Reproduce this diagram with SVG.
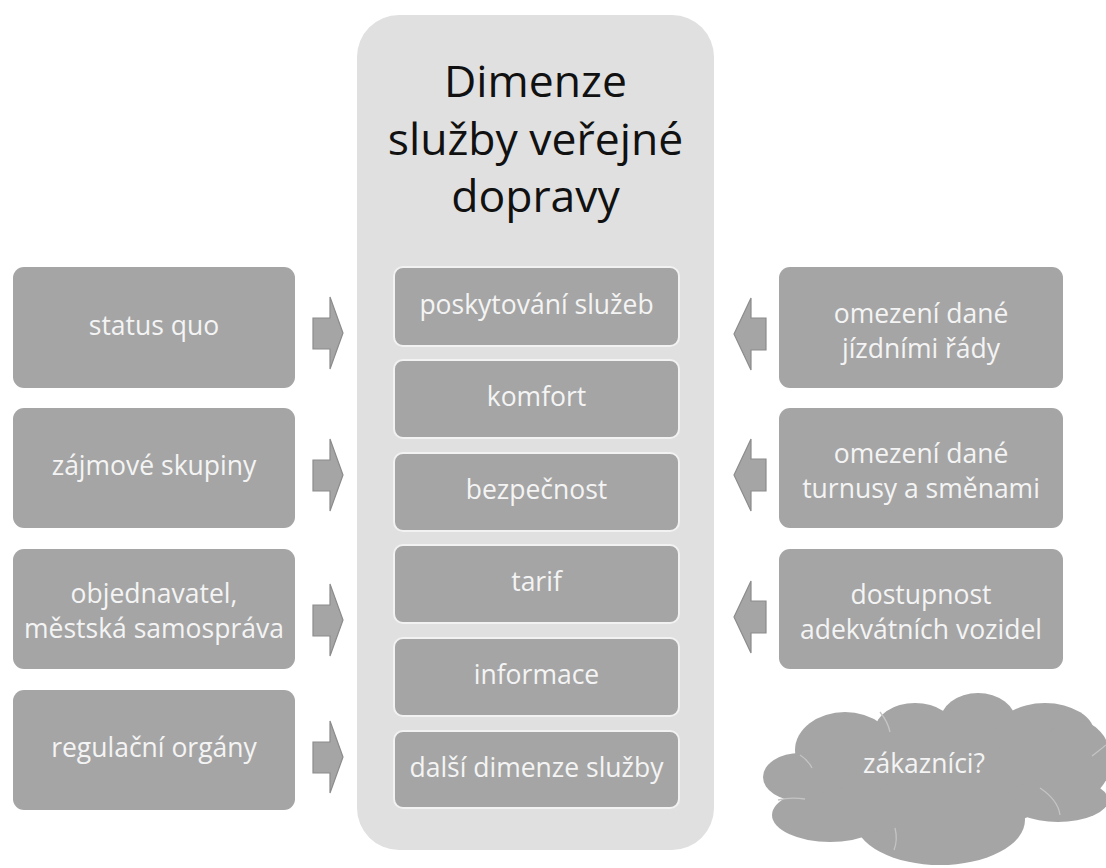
<svg xmlns="http://www.w3.org/2000/svg" width="1106" height="868" viewBox="0 0 1106 868">
<defs>
<style>
.panel{fill:#e0e0e0;}
.box{fill:#a5a5a5;}
.inner{fill:#a5a5a5;stroke:#f2f2f2;stroke-width:2;}
.t{font-family:"Open Sans","Noto Sans",sans-serif;font-size:26.5px;fill:#f4f4f4;text-anchor:middle;}
.title{font-family:"Open Sans","Noto Sans",sans-serif;font-size:44.5px;fill:#111;text-anchor:middle;}
.arr{fill:#a5a5a5;stroke:#8c8c8c;stroke-width:1.2;stroke-linejoin:miter;}
.cloud{fill:#a5a5a5;}
.cl{fill:none;stroke:#c4c4c4;stroke-width:1.3;}
</style>
</defs>
<rect width="1106" height="868" fill="#ffffff"/>

<g id="panel">
<rect class="panel" x="357" y="15" width="357" height="835" rx="42"/>
<text class="title" x="535.5" y="97">Dimenze</text>
<text class="title" x="535.5" y="155">služby veřejné</text>
<text class="title" x="535.5" y="212">dopravy</text>
</g>

<g id="dim1"><rect class="inner" x="394" y="267" width="285" height="79" rx="9"/><text class="t" x="536.5" y="314">poskytování služeb</text></g>
<g id="dim2"><rect class="inner" x="394" y="360" width="285" height="78" rx="9"/><text class="t" x="536.5" y="406">komfort</text></g>
<g id="dim3"><rect class="inner" x="394" y="453" width="285" height="78" rx="9"/><text class="t" x="536.5" y="499">bezpečnost</text></g>
<g id="dim4"><rect class="inner" x="394" y="545" width="285" height="78" rx="9"/><text class="t" x="536.5" y="591">tarif</text></g>
<g id="dim5"><rect class="inner" x="394" y="638" width="285" height="78" rx="9"/><text class="t" x="536.5" y="684">informace</text></g>
<g id="dim6"><rect class="inner" x="394" y="731" width="285" height="77" rx="9"/><text class="t" x="536.5" y="777">další dimenze služby</text></g>

<g id="left1"><rect class="box" x="13" y="267" width="282" height="121" rx="11"/><text class="t" x="154" y="335">status quo</text></g>
<g id="left2"><rect class="box" x="13" y="408" width="282" height="120" rx="11"/><text class="t" x="154" y="475">zájmové skupiny</text></g>
<g id="left3"><rect class="box" x="13" y="549" width="282" height="120" rx="11"/><text class="t" x="154" y="603">objednavatel,</text><text class="t" x="154" y="638">městská samospráva</text></g>
<g id="left4"><rect class="box" x="13" y="690" width="282" height="120" rx="11"/><text class="t" x="154" y="757">regulační orgány</text></g>

<g id="right1"><rect class="box" x="779" y="267" width="284" height="121" rx="11"/><text class="t" x="921" y="323">omezení dané</text><text class="t" x="921" y="358">jízdními řády</text></g>
<g id="right2"><rect class="box" x="779" y="408" width="284" height="120" rx="11"/><text class="t" x="921" y="463">omezení dané</text><text class="t" x="921" y="498">turnusy a směnami</text></g>
<g id="right3"><rect class="box" x="779" y="549" width="284" height="120" rx="11"/><text class="t" x="921" y="604">dostupnost</text><text class="t" x="921" y="639">adekvátních vozidel</text></g>

<g id="cloud">
<ellipse class="cloud" cx="935" cy="775" rx="135" ry="58"/>
<ellipse class="cloud" cx="845" cy="750" rx="50" ry="38"/>
<ellipse class="cloud" cx="915" cy="730" rx="40" ry="27"/>
<ellipse class="cloud" cx="978" cy="722" rx="38" ry="29"/>
<ellipse class="cloud" cx="1045" cy="735" rx="50" ry="32"/>
<ellipse class="cloud" cx="1075" cy="760" rx="36" ry="40"/>
<ellipse class="cloud" cx="1058" cy="800" rx="50" ry="22"/>
<ellipse class="cloud" cx="940" cy="820" rx="85" ry="45"/>
<ellipse class="cloud" cx="830" cy="815" rx="58" ry="27"/>
<ellipse class="cloud" cx="800" cy="777" rx="37" ry="24"/>
<path class="cl" d="M800 755 Q808 760 812 768"/>
<path class="cl" d="M778 800 Q790 797 805 799"/>
<path class="cl" d="M1092 756 Q1100 750 1106 745"/>
<path class="cl" d="M1040 788 Q1058 800 1060 815"/>
<path class="cl" d="M895 828 Q898 840 894 850"/>
<path class="cl" d="M880 712 Q888 722 890 732"/>
</g>
<g id="cloud-label"><text class="t" x="924" y="773">zákazníci?</text></g>

<g id="connectors">
<polygon class="arr" points="313,318 330,318 330,297 343,333 330,369 330,349 313,349"/>
<polygon class="arr" points="313,460 330,460 330,439 343,475 330,511 330,491 313,491"/>
<polygon class="arr" points="313,605 330,605 330,584 343,620 330,656 330,636 313,636"/>
<polygon class="arr" points="313,742 330,742 330,721 343,757 330,793 330,773 313,773"/>
<polygon class="arr" points="766,318 751,318 751,298 734,334 751,370 751,350 766,350"/>
<polygon class="arr" points="766,459 751,459 751,439 734,475 751,511 751,491 766,491"/>
<polygon class="arr" points="766,601 751,601 751,581 734,617 751,653 751,633 766,633"/>
</g>
</svg>
